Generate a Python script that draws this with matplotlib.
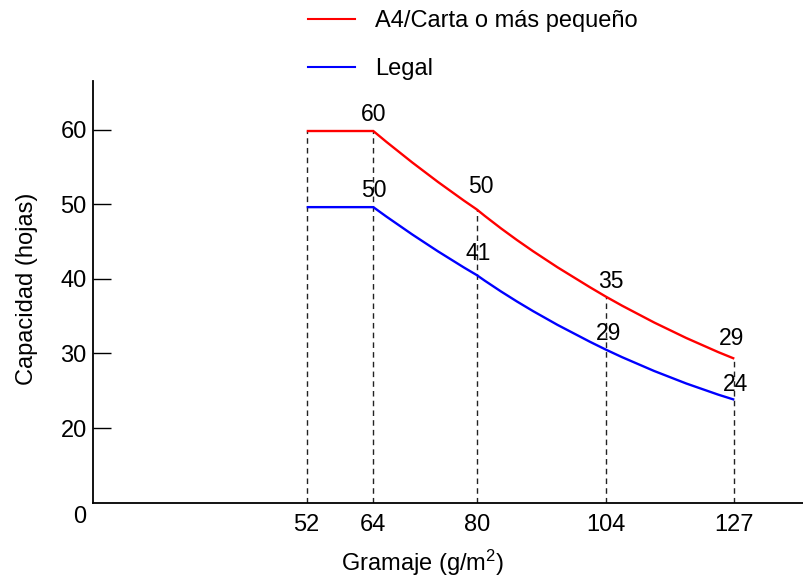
import matplotlib
matplotlib.use("Agg")
import matplotlib.pyplot as plt
from matplotlib.path import Path
from matplotlib.patches import PathPatch
from matplotlib.lines import Line2D
import numpy as np

plt.rcParams['font.family'] = ['Liberation Sans', 'DejaVu Sans']
plt.rcParams['mathtext.fontset'] = 'custom'
plt.rcParams['mathtext.rm'] = 'Liberation Sans'
plt.rcParams['mathtext.it'] = 'Liberation Sans'

# gramaje marcado en el eje x
gramaje = [52, 64, 80, 104, 127]
# valores rotulados sobre las curvas
etiq_a4 = [60, 60, 50, 35, 29]
etiq_legal = [50, 50, 41, 29, 24]
# altura a la que pasa cada curva por esos gramajes
curva_a4 = [59.8, 59.8, 49.3, 37.6, 29.3]
curva_legal = [49.6, 49.6, 40.5, 30.5, 23.8]

rojo = '#ff0000'
azul = '#0000ff'

# el eje x del original es esquemático: cada gramaje tiene su sitio
x_eje = [14, 52, 64, 80, 104, 127, 139.5]
x_pos = [93, 306.7, 373.3, 476.7, 606, 734.3, 804]


def adelante(x):
    return np.interp(x, x_eje, x_pos)


def atras(p):
    return np.interp(p, x_pos, x_eje)


def trazo(xs, ys):
    # tramo plano y luego curva suave (hermite -> bezier cúbica)
    xs = np.asarray(xs, float)
    ys = np.asarray(ys, float)
    xc, yc = xs[1:], ys[1:]
    h = np.diff(xc)
    s = np.diff(yc) / h
    m = np.zeros(len(xc))
    for i in range(1, len(xc) - 1):
        m[i] = (h[i] * s[i - 1] + h[i - 1] * s[i]) / (h[i - 1] + h[i])
    m[0] = 2 * s[0] - m[1]
    m[-1] = 2 * s[-1] - m[-2]
    verts = [(xs[0], ys[0]), (xc[0], yc[0])]
    codes = [Path.MOVETO, Path.LINETO]
    for i in range(len(h)):
        verts += [(xc[i] + h[i] / 3, yc[i] + m[i] * h[i] / 3),
                  (xc[i + 1] - h[i] / 3, yc[i + 1] - m[i + 1] * h[i] / 3),
                  (xc[i + 1], yc[i + 1])]
        codes += [Path.CURVE4] * 3
    return Path(verts, codes)


fig = plt.figure(figsize=(8.04, 5.78), dpi=100)
ax = fig.add_axes([93 / 804, 1 - 502.7 / 578, 1 - 93 / 804, (502.7 - 81) / 578])
ax.set_xscale('function', functions=(adelante, atras))
ax.set_xlim(14, 139.5)
ax.set_ylim(10.0, 66.5)

ax.add_patch(PathPatch(trazo(gramaje, curva_a4), fill=False, edgecolor=rojo, lw=1.7, zorder=3,
                       capstyle='butt', joinstyle='miter'))
ax.add_patch(PathPatch(trazo(gramaje, curva_legal), fill=False, edgecolor=azul, lw=1.7, zorder=3,
                       capstyle='butt', joinstyle='miter'))

# líneas discontinuas hasta la curva superior
ax.vlines(gramaje, 10.0, curva_a4, colors='#222222', linestyles=(0, (4, 3)), lw=1.0, zorder=2)

# rótulos de valores (se omite el de 52)
off_a4 = [(0, 5), (4, 11), (5, 4), (-3, 9)]
off_legal = [(1, 5), (1, 10), (3, 5), (1, 4)]
for i in range(1, len(gramaje)):
    ax.annotate(str(etiq_a4[i]), (gramaje[i], curva_a4[i]), xytext=off_a4[i - 1],
                textcoords='offset pixels', ha='center', va='bottom', fontsize=16.5)
    ax.annotate(str(etiq_legal[i]), (gramaje[i], curva_legal[i]), xytext=off_legal[i - 1],
                textcoords='offset pixels', ha='center', va='bottom', fontsize=16.5)

ax.set_xticks(gramaje)
ax.set_xticklabels([str(g) for g in gramaje])
ax.xaxis.set_minor_locator(matplotlib.ticker.NullLocator())
ax.set_yticks([20, 30, 40, 50, 60])
ax.tick_params(axis='x', length=0, pad=8, labelsize=17)
ax.tick_params(axis='y', direction='in', length=13, width=1, pad=4.5, labelsize=17)

for s in ['top', 'right']:
    ax.spines[s].set_visible(False)
for s in ['left', 'bottom']:
    ax.spines[s].set_linewidth(1.3)

ax.annotate('0', (0, 0), xycoords='axes fraction', xytext=(-13, -14),
            textcoords='offset pixels', ha='center', va='center', fontsize=17)

ax.set_ylabel('Capacidad (hojas)', fontsize=17)
ax.yaxis.set_label_coords((27 - 93) / 711, (502.7 - 289) / 421.7)
ax.yaxis.label.set_va('center')
ax.set_xlabel('Gramaje (g/m$^2$)', fontsize=17)
ax.xaxis.set_label_coords((422.5 - 93) / 711, -(563 - 502.7) / 421.7)
ax.xaxis.label.set_va('center')

manejas = [Line2D([], [], color=rojo, lw=1.5), Line2D([], [], color=azul, lw=1.5)]
fig.legend(manejas, ['A4/Carta o más pequeño', 'Legal'], loc='upper left',
           bbox_to_anchor=(308 / 804, 1 - 10 / 578), frameon=False, borderpad=0, borderaxespad=0,
           fontsize=17, handlelength=2.0, handletextpad=0.85, labelspacing=1.1)

fig.savefig('out.png', dpi=100)
